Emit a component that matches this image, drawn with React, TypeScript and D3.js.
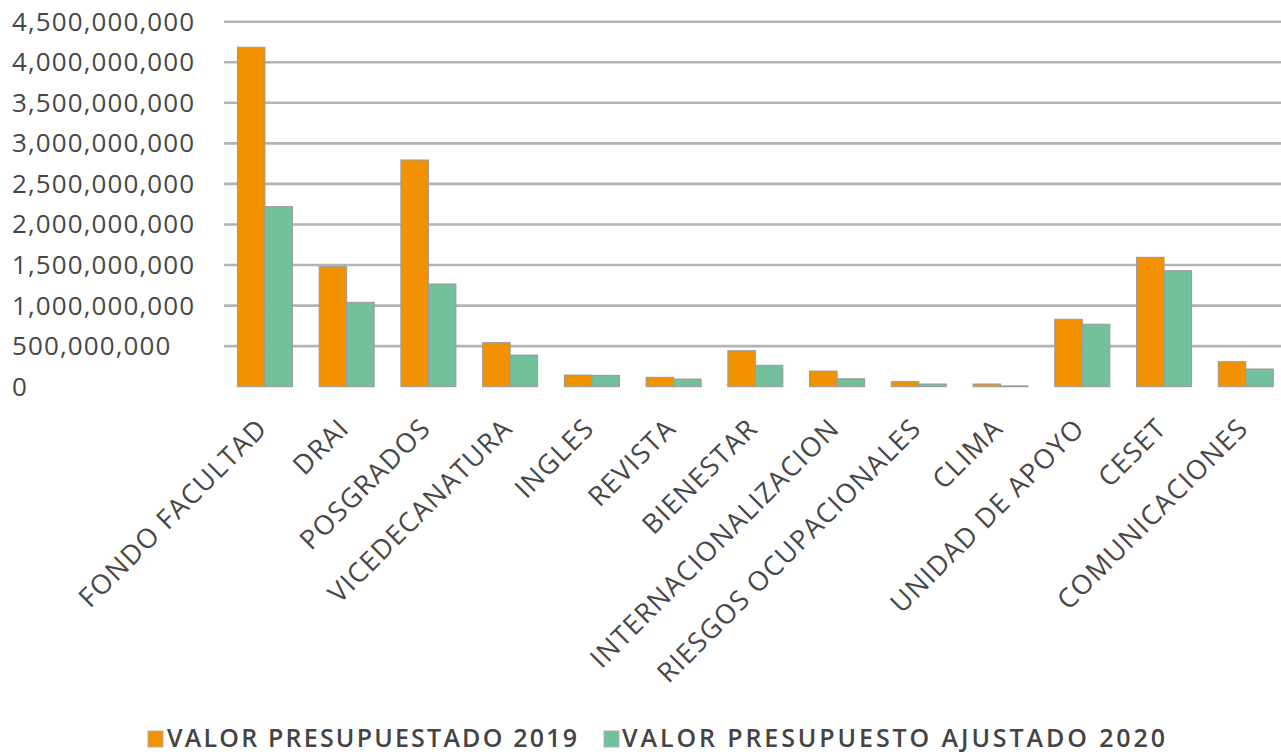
import React from "react";
import * as d3 from "d3";

const categories = [
  "FONDO FACULTAD",
  "DRAI",
  "POSGRADOS",
  "VICEDECANATURA",
  "INGLES",
  "REVISTA",
  "BIENESTAR",
  "INTERNACIONALIZACION",
  "RIESGOS OCUPACIONALES",
  "CLIMA",
  "UNIDAD DE APOYO",
  "CESET",
  "COMUNICACIONES",
];

const valor2019 = [
  4185000000, 1480000000, 2795000000, 543000000, 144000000, 116000000,
  444000000, 193000000, 62000000, 33000000, 831000000, 1595000000, 308000000,
];

const valor2020 = [
  2220000000, 1040000000, 1266000000, 390000000, 140000000, 95000000,
  264000000, 98000000, 33000000, 10000000, 770000000, 1430000000, 218000000,
];

const seriesNames = ["VALOR PRESUPUESTADO 2019", "VALOR PRESUPUESTO AJUSTADO 2020"];
const seriesColors = ["#F39200", "#72C19B"];
const yTicks = [0, 500000000, 1000000000, 1500000000, 2000000000, 2500000000, 3000000000, 3500000000, 4000000000, 4500000000];

const W = 1281;
const H = 755;
const FONT = "'Open Sans', 'Noto Sans', sans-serif";

export default function App() {
  const x = d3
    .scaleBand<string>()
    .domain(categories)
    .range([224.1, 1286.6])
    .paddingInner(0.327)
    .paddingOuter(0.163);
  const xs = d3.scaleBand<number>().domain([0, 1]).range([0, x.bandwidth()]).padding(0);
  const y = d3.scaleLinear().domain([0, 4500000000]).range([386.7, 21.7]);
  const fmt = d3.format(",");
  const series = [valor2019, valor2020];

  return (
    <svg
      width={W}
      height={H}
      style={{ position: "absolute", left: 0, top: 0, background: "#fff" }}
      fontFamily={FONT}
    >
      {yTicks
        .filter((t) => t > 0)
        .map((t) => (
          <line
            key={"g" + t}
            x1={224}
            x2={W}
            y1={y(t)}
            y2={y(t)}
            stroke="#B4B4B4"
            strokeWidth={2.6}
          />
        ))}
      {yTicks.map((t) => (
        <text
          key={"yl" + t}
          x={12}
          y={y(t) + 2}
          dominantBaseline="middle"
          fontSize={26}
          fontWeight={500}
          letterSpacing={1.1}
          fill="#474747"
        >
          {fmt(t)}
        </text>
      ))}
      {categories.map((c, i) => (
        <g key={c} transform={`translate(${x(c)},0)`}>
          {series.map((s, j) => (
            <rect
              key={j}
              x={xs(j)}
              y={y(s[i])}
              width={xs.bandwidth()}
              height={y(0) - y(s[i])}
              fill={seriesColors[j]}
              stroke="#9a9a9a"
              strokeWidth={1}
            />
          ))}
        </g>
      ))}
      {categories.map((c) => {
        const cx = (x(c) as number) + x.bandwidth() / 2 + 4;
        const cy = 430;
        return (
          <text
            key={"xl" + c}
            transform={`translate(${cx},${cy}) rotate(-45)`}
            textAnchor="end"
            fontSize={27}
            fontWeight={500}
            letterSpacing={1.2}
            fill="#474747"
          >
            {c}
          </text>
        );
      })}
      <rect x={148} y={731} width={15} height={16} fill={seriesColors[0]} stroke="#b0b0b0" strokeWidth={1} />
      <text x={167} y={747} fontSize={25} fontWeight={600} letterSpacing={2.2} fill="#444">
        {seriesNames[0]}
      </text>
      <rect x={604} y={731} width={15} height={16} fill={seriesColors[1]} stroke="#b0b0b0" strokeWidth={1} />
      <text x={622} y={747} fontSize={25} fontWeight={600} letterSpacing={2.9} fill="#444">
        {seriesNames[1]}
      </text>
    </svg>
  );
}
